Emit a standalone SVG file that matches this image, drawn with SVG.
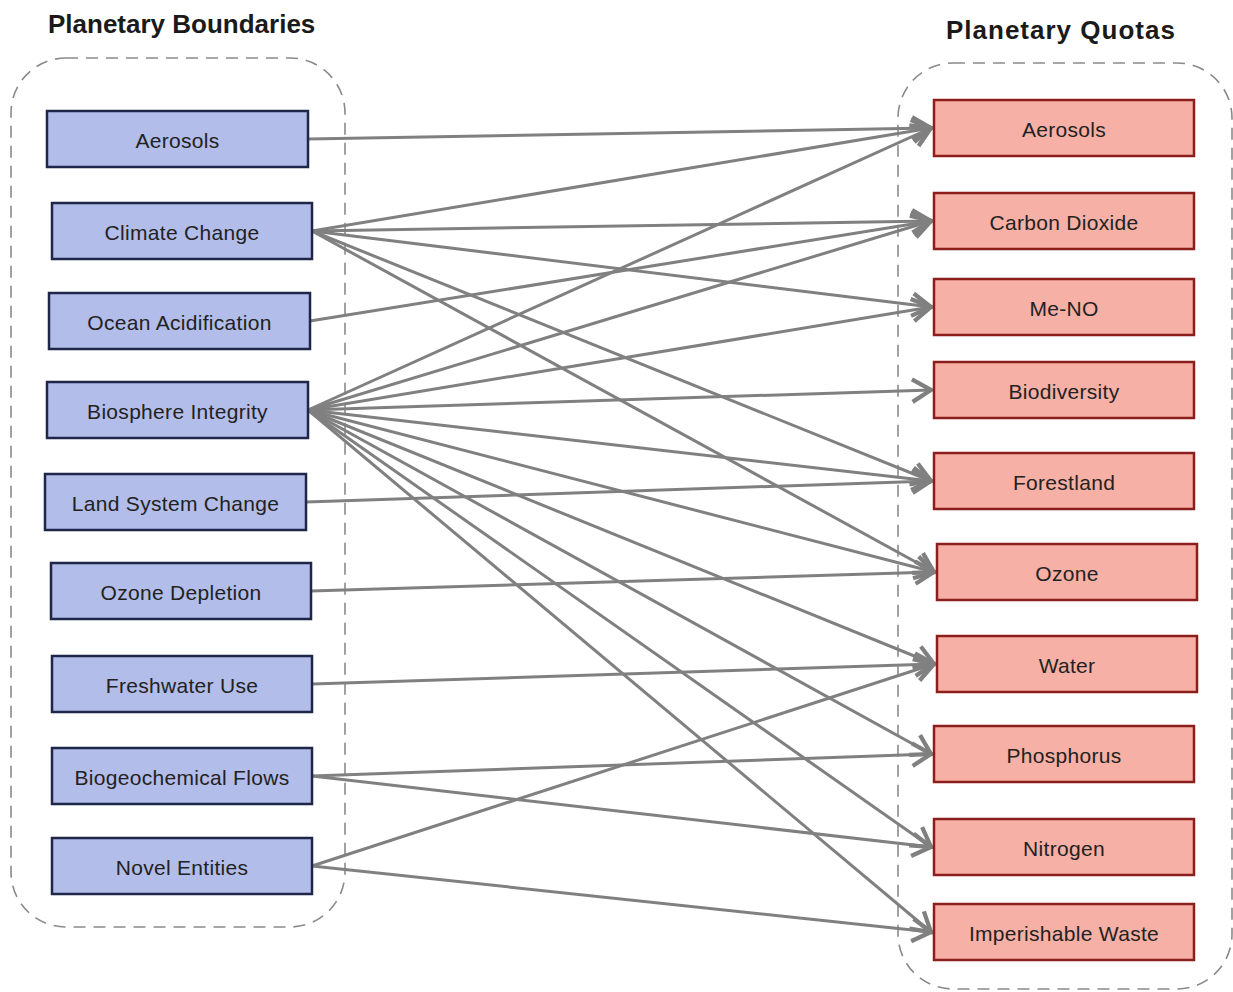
<svg xmlns="http://www.w3.org/2000/svg" width="1233" height="992" viewBox="0 0 1233 992">
  <style>
    .title { font-family: "Liberation Sans", Arial, sans-serif; font-weight: bold; font-size: 26px; fill: #1a1a1a; }
    .label { font-family: "Liberation Sans", Arial, sans-serif; font-size: 21px; fill: #222; text-anchor: middle; dominant-baseline: central; letter-spacing: 0.3px; }
    .frame { fill: none; stroke: #8a8a8a; stroke-width: 1.6; stroke-dasharray: 12 8; }
    .pb rect { fill: #b3bde9; stroke: #1f2749; stroke-width: 2.5; }
    .pq rect { fill: #f6b0a5; stroke: #8c1f1c; stroke-width: 2.5; }
    .links line { stroke: #808080; stroke-width: 3; marker-end: url(#arrow); }
  </style>
  <defs>
    <marker id="arrow" markerUnits="userSpaceOnUse" markerWidth="30" markerHeight="30" refX="0" refY="0" viewBox="-16 -12 20 24" orient="auto" overflow="visible">
      <path d="M-15,-9 L0,0 L-15,9" fill="none" stroke="#808080" stroke-width="3.4" stroke-linejoin="miter"/>
    </marker>
  </defs>
  <rect width="1233" height="992" fill="#ffffff"/>

  <!-- column headings -->
  <text class="title" x="48" y="33">Planetary Boundaries</text>
  <text class="title" x="946" y="39" letter-spacing="1">Planetary Quotas</text>

  <!-- dashed group frames -->
  <rect class="frame" x="11" y="58" width="334" height="869" rx="55" ry="55"/>
  <rect class="frame" x="898" y="63" width="334" height="926" rx="55" ry="55"/>

  <!-- connectors -->
  <g id="connectors" class="links">
    <line x1="308" y1="139" x2="931" y2="128"/>
    <line x1="312" y1="231" x2="931" y2="128"/>
    <line x1="312" y1="231" x2="931" y2="221"/>
    <line x1="312" y1="231" x2="931" y2="307"/>
    <line x1="312" y1="231" x2="931" y2="481"/>
    <line x1="312" y1="231" x2="934" y2="572"/>
    <line x1="310" y1="321" x2="931" y2="221"/>
    <line x1="308" y1="410" x2="931" y2="128"/>
    <line x1="308" y1="410" x2="931" y2="221"/>
    <line x1="308" y1="410" x2="931" y2="307"/>
    <line x1="308" y1="410" x2="931" y2="390"/>
    <line x1="308" y1="410" x2="931" y2="481"/>
    <line x1="308" y1="410" x2="934" y2="572"/>
    <line x1="308" y1="410" x2="934" y2="664"/>
    <line x1="308" y1="410" x2="931" y2="754"/>
    <line x1="308" y1="410" x2="931" y2="847"/>
    <line x1="308" y1="410" x2="931" y2="932"/>
    <line x1="306" y1="502" x2="931" y2="481"/>
    <line x1="311" y1="591" x2="934" y2="572"/>
    <line x1="312" y1="684" x2="934" y2="664"/>
    <line x1="312" y1="776" x2="931" y2="754"/>
    <line x1="312" y1="776" x2="931" y2="847"/>
    <line x1="312" y1="866" x2="934" y2="664"/>
    <line x1="312" y1="866" x2="931" y2="932"/>
  </g>

  <!-- planetary boundaries -->
  <g id="pb-aerosols" class="pb"><rect x="47" y="111" width="261" height="56"/><text class="label" x="177.5" y="140">Aerosols</text></g>
  <g id="pb-climate" class="pb"><rect x="52" y="203" width="260" height="56"/><text class="label" x="182" y="232">Climate Change</text></g>
  <g id="pb-ocean" class="pb"><rect x="49" y="293" width="261" height="56"/><text class="label" x="179.5" y="322">Ocean Acidification</text></g>
  <g id="pb-biosphere" class="pb"><rect x="47" y="382" width="261" height="56"/><text class="label" x="177.5" y="411">Biosphere Integrity</text></g>
  <g id="pb-land" class="pb"><rect x="45" y="474" width="261" height="56"/><text class="label" x="175.5" y="503">Land System Change</text></g>
  <g id="pb-ozone" class="pb"><rect x="51" y="563" width="260" height="56"/><text class="label" x="181" y="592">Ozone Depletion</text></g>
  <g id="pb-freshwater" class="pb"><rect x="52" y="656" width="260" height="56"/><text class="label" x="182" y="685">Freshwater Use</text></g>
  <g id="pb-biogeo" class="pb"><rect x="52" y="748" width="260" height="56"/><text class="label" x="182" y="777">Biogeochemical Flows</text></g>
  <g id="pb-novel" class="pb"><rect x="52" y="838" width="260" height="56"/><text class="label" x="182" y="867">Novel Entities</text></g>

  <!-- planetary quotas -->
  <g id="pq-aerosols" class="pq"><rect x="934" y="100" width="260" height="56"/><text class="label" x="1064" y="129">Aerosols</text></g>
  <g id="pq-co2" class="pq"><rect x="934" y="193" width="260" height="56"/><text class="label" x="1064" y="222">Carbon Dioxide</text></g>
  <g id="pq-meno" class="pq"><rect x="934" y="279" width="260" height="56"/><text class="label" x="1064" y="308">Me-NO</text></g>
  <g id="pq-biodiversity" class="pq"><rect x="934" y="362" width="260" height="56"/><text class="label" x="1064" y="391">Biodiversity</text></g>
  <g id="pq-forestland" class="pq"><rect x="934" y="453" width="260" height="56"/><text class="label" x="1064" y="482">Forestland</text></g>
  <g id="pq-ozone" class="pq"><rect x="937" y="544" width="260" height="56"/><text class="label" x="1067" y="573">Ozone</text></g>
  <g id="pq-water" class="pq"><rect x="937" y="636" width="260" height="56"/><text class="label" x="1067" y="665">Water</text></g>
  <g id="pq-phosphorus" class="pq"><rect x="934" y="726" width="260" height="56"/><text class="label" x="1064" y="755">Phosphorus</text></g>
  <g id="pq-nitrogen" class="pq"><rect x="934" y="819" width="260" height="56"/><text class="label" x="1064" y="848">Nitrogen</text></g>
  <g id="pq-waste" class="pq"><rect x="934" y="904" width="260" height="56"/><text class="label" x="1064" y="933">Imperishable Waste</text></g>
</svg>
